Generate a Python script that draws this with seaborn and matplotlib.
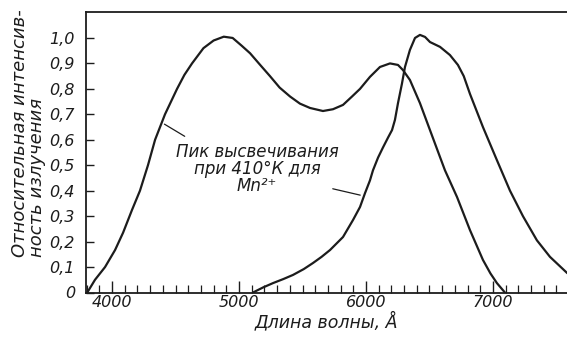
import matplotlib
matplotlib.use("Agg")
import matplotlib.pyplot as plt
import seaborn as sns
import pandas as pd
from matplotlib.ticker import MultipleLocator, FixedLocator

# --- data ---
wl_a = [3805, 3866, 3945, 4024, 4087, 4157, 4220, 4283, 4339, 4417, 4512, 4570, 4630,
        4720, 4800, 4880, 4950, 5020, 5087, 5165, 5244, 5320, 5402, 5480, 5559, 5661,
        5740, 5819, 5890, 5953, 6031, 6110, 6189, 6252, 6291, 6346, 6425, 6504, 6583,
        6622, 6717, 6819, 6921, 6980, 7031, 7094]
val_a = [0.0, 0.05, 0.10, 0.167, 0.235, 0.324, 0.40, 0.50, 0.60, 0.70, 0.80, 0.855, 0.90,
         0.96, 0.99, 1.005, 1.0, 0.97, 0.94, 0.895, 0.85, 0.805, 0.77, 0.742, 0.725, 0.713,
         0.72, 0.737, 0.77, 0.80, 0.847, 0.886, 0.90, 0.894, 0.874, 0.835, 0.744, 0.638, 0.532,
         0.48, 0.375, 0.245, 0.128, 0.075, 0.037, 0.0]

wl_b = [5110, 5190, 5268, 5350, 5425, 5510, 5583, 5650, 5717, 5819, 5898, 5953, 5992,
        6031, 6055, 6095, 6134, 6175, 6205, 6228, 6252, 6283, 6307, 6346, 6386, 6425,
        6465, 6504, 6583, 6661, 6724, 6770, 6819, 6870, 6921, 7031, 7134, 7236, 7346,
        7449, 7583, 7700, 7800]
val_b = [0.0, 0.02, 0.037, 0.053, 0.069, 0.092, 0.116, 0.14, 0.167, 0.218, 0.285, 0.336, 0.39,
         0.44, 0.48, 0.53, 0.57, 0.61, 0.638, 0.678, 0.744, 0.82, 0.886, 0.953, 1.0, 1.012,
         1.004, 0.984, 0.965, 0.933, 0.894, 0.85, 0.78, 0.715, 0.65, 0.52, 0.40, 0.30, 0.205,
         0.14, 0.077, 0.035, 0.0]

x_ticks = [4000, 5000, 6000, 7000]
x_ticklabels = ["4000", "5000", "6000", "7000"]
y_ticks = [0, 0.1, 0.2, 0.3, 0.4, 0.5, 0.6, 0.7, 0.8, 0.9, 1.0]
y_ticklabels = ["0", "0,1", "0,2", "0,3", "0,4", "0,5", "0,6", "0,7", "0,8", "0,9", "1,0"]

ylabel_text = "Относительная интенсив-\nность излучения"
xlabel_text = "Длина волны, Å"
note_text = "Пик высвечивания\nпри 410°К для\nMn²⁺"

sns.set_theme(style="white")
plt.rcParams['font.family'] = ['DejaVu Sans']

ink = "#1c1c1c"
fig = plt.figure(figsize=(5.67, 3.38), dpi=100)
fig.patch.set_facecolor("white")
ax = fig.add_axes([86/567, 45.5/338, 1 - 86/567, (292.5 - 12)/338])
ax.set_facecolor("white")

df_a = pd.DataFrame({"wl": wl_a, "v": val_a})
df_b = pd.DataFrame({"wl": wl_b, "v": val_b})
sns.lineplot(data=df_a, x="wl", y="v", ax=ax, color=ink, lw=1.6, sort=False, estimator=None)
sns.lineplot(data=df_b, x="wl", y="v", ax=ax, color=ink, lw=1.6, sort=False, estimator=None)
for ln in ax.lines:
    ln.set_solid_joinstyle("round")

ax.set_xlim(3795, 7583)
ax.set_ylim(0, 1.102)

for s in ["left", "bottom", "top"]:
    ax.spines[s].set_visible(True)
    ax.spines[s].set_color(ink)
    ax.spines[s].set_linewidth(1.3)
ax.spines["right"].set_visible(False)

ax.xaxis.set_major_locator(FixedLocator(x_ticks))
ax.set_xticklabels(x_ticklabels, fontsize=11.5, style="italic", color=ink)
ax.xaxis.set_minor_locator(MultipleLocator(100))
ax.yaxis.set_major_locator(FixedLocator(y_ticks))
ax.set_yticklabels(y_ticklabels, fontsize=11.5, style="italic", color=ink)
ax.tick_params(axis="x", which="major", direction="in", length=9, width=1.0,
               color=ink, bottom=True, top=False, pad=2)
ax.tick_params(axis="x", which="minor", direction="in", length=5.5, width=0.9,
               color=ink, bottom=True, top=False)
ax.tick_params(axis="y", which="major", direction="in", length=6, width=1.0,
               color=ink, left=True, right=False, pad=8)

ax.set_xlabel(xlabel_text, fontsize=12.5, style="italic", color=ink, labelpad=1)
ax.set_ylabel("")
fig.text(11/567, 81/338, ylabel_text, rotation=90, fontsize=13, style="italic",
         color=ink, ha="left", va="bottom", multialignment="left", linespacing=0.95)

ax.text(5142, 0.485, note_text, ha="center", va="center", fontsize=12,
        style="italic", color=ink, multialignment="center", linespacing=0.95)
ax.annotate("", xy=(4394, 0.667), xytext=(4591, 0.608),
            arrowprops=dict(arrowstyle="-", color=ink, lw=0.9))
ax.annotate("", xy=(5976, 0.38), xytext=(5717, 0.41),
            arrowprops=dict(arrowstyle="-", color=ink, lw=0.9))

fig.savefig("out.png", dpi=100, facecolor="white")
